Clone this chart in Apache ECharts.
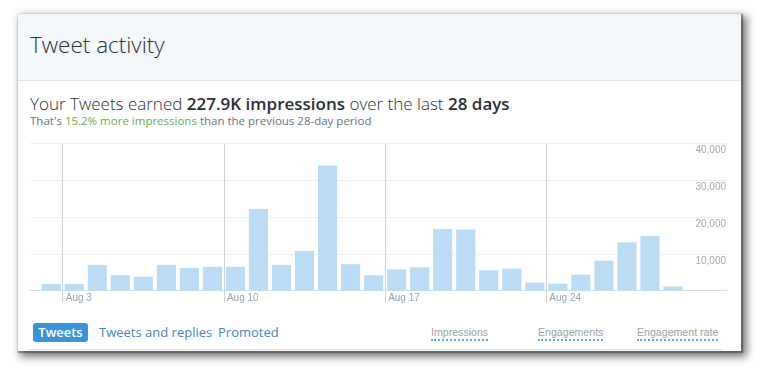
<!DOCTYPE html>
<html>
<head>
<meta charset="utf-8">
<script src="https://cdn.jsdelivr.net/npm/echarts@6/dist/echarts.min.js"></script>
<style>
  html, body { margin:0; padding:0; width:760px; height:367px; background:#fff; overflow:hidden; font-family:"Open Sans", "Liberation Sans", Arial, sans-serif; }
  #card { position:absolute; left:18px; top:14px; width:723px; height:337px; background:#fff; box-shadow: 1px 1px 1px 1px rgba(0,0,0,0.3), 4px 4px 8px 2px rgba(0,0,0,0.5); }
  #header { position:absolute; left:0; top:0; width:723px; height:66px; background:#f5f8fa; border-bottom:1px solid #e1e8ed; }
  .t { position:absolute; white-space:nowrap; }
  #title { left:12px; top:15px; font-size:22.5px; font-weight:300; color:#292f33; }
  #headline { left:12px; top:78px; font-size:17px; font-weight:300; color:#292f33; }
  #headline b { font-weight:600; }
  #sub { left:12px; top:99px; font-size:11.5px; color:#66757f; }
  #sub span { color:#6aab4a; }
  #btn { left:15px; top:309px; width:55px; height:19px; background:#3b94d9; border-radius:3px; color:#fff; font-size:13px; font-weight:600; text-align:center; line-height:19px; }
  .tab { top:309px; font-size:13px; color:#4387c2; }
  .mt { top:312px; font-size:10.6px; color:#9aa3a8; border-bottom:2px dotted #5aa6de; padding-bottom:1px; font-family:"Liberation Sans", Arial, sans-serif; }
  #botline { position:absolute; left:10px; top:335px; width:694px; height:1px; background:#cfdde5; }
  #chart { position:absolute; left:0; top:0; width:760px; height:367px; }
</style>
</head>
<body>
<div id="card">
  <div id="header"></div>
  <div class="t" id="title">Tweet activity</div>
  <div class="t" id="headline">Your Tweets earned <b>227.9K impressions</b> over the last <b>28 days</b></div>
  <div class="t" id="sub">That's <span>15.2% more impressions</span> than the previous 28-day period</div>
  <div class="t" id="btn">Tweets</div>
  <div class="t tab" style="left:81px">Tweets and replies</div>
  <div class="t tab" style="left:200px">Promoted</div>
  <div class="t mt" style="left:413px">Impressions</div>
  <div class="t mt" style="left:520px">Engagements</div>
  <div class="t mt" style="left:619px">Engagement rate</div>
  <div id="botline"></div>
</div>
<div id="chart"></div>
<script>
const categories = ['Aug 2','Aug 3','Aug 4','Aug 5','Aug 6','Aug 7','Aug 8','Aug 9','Aug 10','Aug 11','Aug 12','Aug 13','Aug 14','Aug 15','Aug 16','Aug 17','Aug 18','Aug 19','Aug 20','Aug 21','Aug 22','Aug 23','Aug 24','Aug 25','Aug 26','Aug 27','Aug 28','Aug 29'];
const impressions = [1800,1800,7000,4200,3800,7000,6200,6500,6500,22200,7000,10800,34000,7200,4200,5800,6350,16800,16600,5550,6000,2200,1900,4350,8150,13150,14850,1200];
const xTickLabels = ['Aug 3','Aug 10','Aug 17','Aug 24'];
const yTicks = [0,10000,20000,30000,40000];

// layout (pixels)
const plotTop = 143.5, plotBottom = 76.3;
const barLeft = 39.7, barRight = 75.5;
const band = (760 - barLeft - barRight) / categories.length;
const firstIdx = categories.indexOf(xTickLabels[0]);
const lastIdx = categories.indexOf(xTickLabels[xTickLabels.length - 1]);
const weekLeft = barLeft + band * firstIdx;
const weekRight = 760 - (barLeft + band * lastIdx);

const chart = echarts.init(document.getElementById('chart'));
chart.setOption({
  animation:false,
  grid:[
    {left:30, right:33, top:plotTop, bottom:plotBottom},
    {left:barLeft, right:barRight, top:plotTop, bottom:plotBottom},
    {left:weekLeft, right:weekRight, top:plotTop, bottom:plotBottom}
  ],
  xAxis:[
    {gridIndex:0, type:'value', min:0, max:1,
     axisLine:{show:true, lineStyle:{color:'#d8dde0', width:1}},
     axisTick:{show:false}, axisLabel:{show:false}, splitLine:{show:false}},
    {gridIndex:1, type:'category', data:categories, boundaryGap:true,
     axisLine:{show:false}, axisTick:{show:false}, splitLine:{show:false}, axisLabel:{show:false}},
    {gridIndex:2, type:'value', min:0, max:lastIdx - firstIdx, interval:7,
     axisLine:{show:false},
     axisTick:{show:true, length:12, lineStyle:{color:'#d2d2d2'}},
     splitLine:{show:true, lineStyle:{color:'#d2d2d2'}},
     axisLabel:{align:'left', margin:3, padding:[0,0,0,3],
       color:'#9aa3a8', fontSize:10, fontFamily:'Liberation Sans, Arial',
       formatter:v => categories[v + firstIdx]}}
  ],
  yAxis:[
    {gridIndex:0, type:'value', position:'right', min:yTicks[0], max:yTicks[yTicks.length-1], interval:10000,
     axisLine:{show:false}, axisTick:{show:false},
     splitLine:{show:true, lineStyle:{color:'#eef0f2'}},
     axisLabel:{inside:true, margin:1, showMinLabel:false, verticalAlign:'top', padding:[2,0,0,0],
       color:'#a3abb0', fontSize:10, fontFamily:'Liberation Sans, Arial',
       formatter:v => v.toLocaleString('en-US')}},
    {gridIndex:1, type:'value', min:yTicks[0], max:yTicks[yTicks.length-1], show:false},
    {gridIndex:2, type:'value', min:yTicks[0], max:yTicks[yTicks.length-1], show:false}
  ],
  series:[{
    type:'bar', xAxisIndex:1, yAxisIndex:1, data:impressions,
    barCategoryGap:'17%', itemStyle:{color:'#bbdcf5'}
  }]
});
</script>
</body>
</html>
